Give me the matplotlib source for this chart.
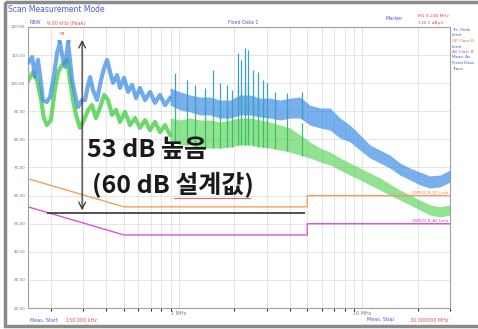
import numpy as np
import matplotlib.pyplot as plt
from matplotlib.patches import Rectangle
from matplotlib.ticker import LogLocator, NullFormatter

W, H = 478, 329

# Peak trace (blue), low band as a single wiggly line
peak_f_low = [0.151, 0.158, 0.164, 0.170, 0.177, 0.181, 0.190, 0.198, 0.208, 0.216,
              0.224, 0.233, 0.239, 0.248, 0.254, 0.261, 0.271, 0.281, 0.296, 0.307,
              0.319, 0.327, 0.339, 0.357, 0.375, 0.390, 0.405, 0.420, 0.436, 0.459,
              0.476, 0.501, 0.527, 0.554, 0.582, 0.612, 0.652, 0.694, 0.739, 0.787,
              0.838, 0.892]
peak_db_low = [107.5, 109.3, 102.2, 108.3, 99.4, 94.0, 93.3, 95.1, 102.9, 110.7,
               114.3, 108.3, 105.8, 114.3, 108.3, 101.1, 95.8, 91.5, 94.0, 94.0,
               99.4, 102.2, 97.6, 94.0, 101.1, 105.4, 108.3, 104.0, 100.1, 102.9,
               98.3, 101.9, 96.9, 99.4, 94.7, 98.3, 94.0, 96.9, 93.0, 95.8,
               92.2, 94.7]

# Peak trace above ~0.9 MHz as an envelope band
band_f = [0.892, 1.011, 1.147, 1.300, 1.474, 1.671, 1.895, 2.148, 2.435, 2.761,
          3.130, 3.549, 4.024, 4.563, 5.172, 5.865, 6.651, 7.54, 8.55, 9.69,
          10.99, 12.46, 14.12, 16.01, 18.15, 20.58, 23.33, 26.46, 30.0]
peak_hi = [98.3, 96.9, 95.8, 95.1, 95.1, 94.0, 94.0, 95.8, 95.8, 94.7,
           94.7, 94.0, 94.7, 95.1, 92.2, 91.2, 91.2, 87.6, 85.1, 81.6,
           78.0, 76.2, 74.4, 71.6, 69.8, 68.4, 67.0, 67.3, 69.1]
peak_lo = [92.2, 90.5, 89.8, 88.7, 88.7, 87.6, 87.6, 88.7, 88.7, 88.0,
           87.6, 86.9, 87.6, 87.6, 85.1, 84.1, 83.3, 80.5, 79.1, 76.2,
           73.4, 71.6, 69.8, 67.3, 65.6, 63.8, 62.7, 63.1, 64.8]

# Average trace (green)
avg_f_low = [0.151, 0.160, 0.168, 0.177, 0.183, 0.190, 0.200, 0.210, 0.219, 0.230,
             0.245, 0.254, 0.264, 0.274, 0.288, 0.303, 0.319, 0.335, 0.352, 0.370,
             0.390, 0.410, 0.431, 0.453, 0.476, 0.507, 0.540, 0.575, 0.612, 0.652,
             0.694, 0.739, 0.787, 0.838, 0.892]
avg_db_low = [101.1, 104.0, 101.1, 94.0, 87.6, 85.1, 86.9, 97.6, 104.0, 106.5,
              108.3, 101.1, 94.0, 88.7, 84.1, 86.9, 90.5, 92.2, 87.6, 91.2,
              95.8, 94.0, 88.7, 90.5, 86.2, 89.8, 85.1, 87.6, 84.1, 86.9,
              83.3, 86.2, 82.6, 85.1, 81.6]
avg_hi = [87.6, 86.9, 87.6, 86.9, 86.9, 86.2, 86.9, 87.6, 87.6, 86.9,
          86.2, 85.1, 84.1, 81.6, 79.1, 76.9, 75.5, 73.4, 71.6, 69.8,
          68.0, 66.3, 64.1, 62.0, 60.2, 58.4, 56.7, 56.0, 56.7]
avg_lo = [79.8, 78.0, 78.0, 76.9, 76.9, 76.9, 77.3, 78.0, 78.0, 77.3,
          76.9, 76.2, 75.5, 74.4, 73.4, 72.0, 70.9, 69.1, 67.3, 65.6,
          63.8, 62.0, 60.2, 58.4, 56.7, 54.9, 53.1, 52.4, 53.1]

# Harmonic spikes
spike_f = [0.950, 1.104, 1.221, 1.384, 1.530, 1.671, 1.826, 1.942, 2.094, 2.175,
           2.287, 2.375, 2.529, 2.693, 2.867, 3.015, 3.334, 3.876, 4.678]
spike_peak = [103.6, 101.1, 99.4, 98.3, 104.7, 100.1, 99.4, 97.6, 110.7, 108.3,
              112.5, 111.8, 104.7, 104.0, 101.1, 100.1, 96.9, 96.5, 96.9]
spike_avg = [94.0, 92.2, 90.0, 91.2, 94.7, 90.0, 92.2, 89.0, 99.4, 97.0,
             100.4, 99.4, 95.8, 94.0, 93.0, 91.2, 90.5, 88.0, 86.0]

# CISPR 22 class B limits
lim_f = [0.15, 0.5, 5.0, 5.0, 30.0]
qp_limit = [66, 56, 56, 60, 60]
av_limit = [56, 46, 46, 50, 50]

design_level = 53.8
arrow_top = 116.4
arrow_f = 0.296
design_span = (0.19, 4.85)

fig = plt.figure(figsize=(W / 100, H / 100), dpi=100)
fig.patch.set_facecolor('white')

ax = fig.add_axes([28 / W, (H - 308) / H, 422 / W, 281 / H])
ax.set_xscale('log')
ax.set_xlim(0.15, 30)
ax.set_ylim(20, 120)

yt = np.arange(20, 121, 10)
ax.set_yticks(yt)
ax.set_yticklabels([f'{v:.2f}' for v in yt], fontsize=3, color='#777777')
ax.set_xticks([1, 10])
ax.set_xticklabels(['1 MHz', '10 MHz'], fontsize=3.5, color='#777777')
ax.xaxis.set_minor_locator(LogLocator(base=10, subs=np.arange(2, 10)))
ax.xaxis.set_minor_formatter(NullFormatter())
ax.tick_params(length=0, pad=2)
ax.grid(True, which='both', color='#e0e0e0', lw=0.6)
for sp in ax.spines.values():
    sp.set_color('#a0a0a0')
    sp.set_linewidth(0.8)

blue = '#3f8fe6'
green = '#48d048'

ax.fill_between(band_f, avg_lo, avg_hi, color=green, alpha=0.6, lw=0, zorder=2)
ax.plot(avg_f_low, avg_db_low, color=green, lw=3, alpha=0.8, zorder=2)
ax.vlines(spike_f, [np.interp(f, band_f, avg_lo) for f in spike_f], spike_avg,
          color='#3cbf6a', lw=0.9, zorder=2)

ax.fill_between(band_f, peak_lo, peak_hi, color=blue, alpha=0.7, lw=0, zorder=3)
ax.plot(peak_f_low, peak_db_low, color=blue, lw=3, alpha=0.75, zorder=3)
ax.vlines(spike_f, [np.interp(f, band_f, peak_lo) for f in spike_f], spike_peak,
          color='#3aa0c8', lw=0.9, zorder=3)

ax.plot(lim_f, qp_limit, color='#f0a060', lw=1.0, zorder=4)
ax.plot(lim_f, av_limit, color='#d856d8', lw=1.0, zorder=4)
ax.text(18.5, 60.8, 'CISPR22_B_QP_Limit', color='#f08040', fontsize=2.6, zorder=5)
ax.text(18.5, 50.8, 'CISPR22_B_AV_Limit', color='#d040d0', fontsize=2.6, zorder=5)

ax.hlines(design_level, *design_span, color='#333333', lw=1.2, zorder=6)
ax.annotate('', xy=(arrow_f, design_level), xytext=(arrow_f, arrow_top),
            arrowprops=dict(arrowstyle='<->', color='#333333', lw=0.9,
                            mutation_scale=12), zorder=6)

ax.text(0.232, 117.0, 'M1', color='#e05050', fontsize=3, ha='center', zorder=6)
ax.plot([0.222, 0.248], [114.6, 114.6], ls='none', marker='v', ms=2.5,
        color='#5aa0e0', zorder=6)

# window frame and captions drawn over the plot, in pixel units
frame = fig.add_axes([0, 0, 1, 1], zorder=10)
frame.set_xlim(0, W)
frame.set_ylim(H, 0)
frame.axis('off')
frame.add_patch(Rectangle((5, 2), 480, 324, fill=False, ec='#8a8a8a', lw=2.5))
frame.text(8, 9, 'Scan Measurement Mode', color='#4a5ad8', fontsize=5.5, va='center')
frame.text(30, 23, 'RBW', color='#4a5ad8', fontsize=3.5, va='center')
frame.text(47, 23, '9.00 kHz (Peak)', color='#e05050', fontsize=3.5, va='center')
frame.text(228, 23, 'Fixed Data 1', color='#4a5ad8', fontsize=3.5, va='center')
frame.text(386, 18, 'Marker', color='#4a5ad8', fontsize=3.5, va='center')
frame.text(418, 16, 'M1 0.248 MHz', color='#e05050', fontsize=3.2, va='center')
frame.text(418, 23, '116.2 dB\u00b5V', color='#e05050', fontsize=3.2, va='center')
side = [('Trc: Peak', '#4a5ad8'), ('Limit', '#4a5ad8'), ('QP Class B', '#e08030'),
        ('Limit', '#4a5ad8'), ('AV Class B', '#d040d0'), ('Meas: Av', '#4a5ad8'),
        ('Fixed Data', '#4a5ad8'), ('Trace', '#4a5ad8')]
for i, (s, c) in enumerate(side):
    frame.text(452, 30 + i * 5.5, s, color=c, fontsize=3, va='center')
frame.text(30, 320, 'Meas. Start', color='#4a5ad8', fontsize=3.5, va='center')
frame.text(66, 320, '150.000 kHz', color='#e05050', fontsize=3.5, va='center')
frame.text(367, 320, 'Meas. Stop', color='#4a5ad8', fontsize=3.5, va='center')
frame.text(410, 320, '30.000000 MHz', color='#e05050', fontsize=3.5, va='center')

kfont = ['Noto Sans CJK KR', 'DejaVu Sans']
frame.text(87, 150, '53 dB 높음', fontsize=18, fontweight='bold', family=kfont,
           color='#1a1a1a', va='center')
frame.text(92, 185, '(60 dB 설계값)', fontsize=18, fontweight='bold', family=kfont,
           color='#1a1a1a', va='center')
# spell-check underline under the Korean word
frame.plot([174, 250], [197.5, 197.5], color='#e04040', lw=0.8, alpha=0.8)

fig.savefig('out.png', dpi=100)
